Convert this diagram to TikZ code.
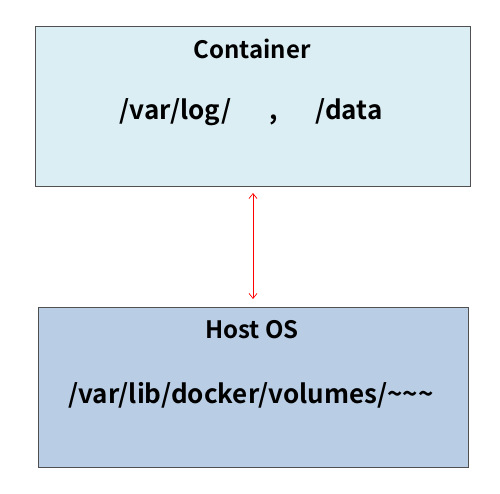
\documentclass[tikz,border=0pt]{standalone}
\usepackage{fontspec}
\setmainfont{Noto Sans CJK KR}[BoldFont={Noto Sans CJK KR Bold}]
\usetikzlibrary{arrows.meta}
\definecolor{topfill}{RGB}{219,238,244}
\definecolor{botfill}{RGB}{185,205,229}
\definecolor{edge}{RGB}{80,80,80}
\tikzset{
  panel/.style={draw=edge, line width=1.2pt},
  title/.style={font=\bfseries\fontsize{24}{28}\selectfont, inner sep=0pt},
  path/.style={font=\bfseries\fontsize{26}{30}\selectfont, inner sep=0pt},
  link/.style={draw=red, line width=0.7pt, {Straight Barb[length=5pt,width=8pt]}-{Straight Barb[length=5pt,width=8pt]}}
}
\begin{document}
\begin{tikzpicture}[x=1pt,y=1pt]
\useasboundingbox (0,0) rectangle (500,493);
\node[panel, fill=topfill, minimum width=435pt, minimum height=160pt, anchor=north west, inner sep=0pt] (cont) at (35,467) {};
\node[panel, fill=botfill, minimum width=430pt, minimum height=160pt, anchor=north west, inner sep=0pt] (host) at (38,186) {};
\node[title] (ctitle) at (252,444) {Container};
\node[path] (cpath) at (251,381) {/var/log/\hspace{38pt},\hspace{38pt}/data};
\node[title] (htitle) at (252,163) {Host OS};
\node[path] (hpath) at (251,98) {/var/lib/docker/volumes/\char`~\char`~\char`~};
\coordinate (atop) at (253,300);
\coordinate (abot) at (253,194);
\draw[link] (atop) -- (abot);
\end{tikzpicture}
\end{document}
